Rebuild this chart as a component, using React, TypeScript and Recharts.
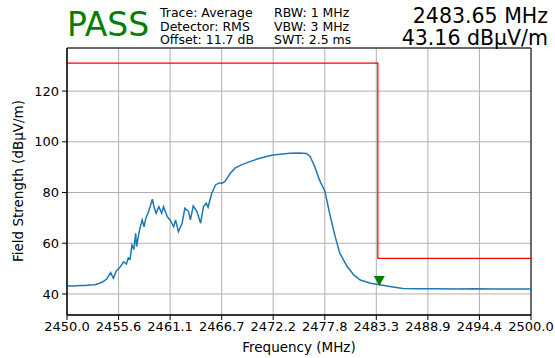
import React from "react";
import {
  ComposedChart,
  Line,
  XAxis,
  YAxis,
  CartesianGrid,
  ReferenceArea,
  ReferenceDot,
} from "recharts";

// measured trace (MHz, dBµV/m)
const traceFreq = [
  2450.0, 2450.5, 2451.0, 2451.5, 2452.0, 2452.5, 2453.0, 2453.5, 2453.9, 2454.3,
  2454.7, 2455.0, 2455.3, 2455.7, 2456.1, 2456.4, 2456.6, 2456.8, 2457.0, 2457.2,
  2457.4, 2457.5, 2457.8, 2458.1, 2458.3, 2458.5, 2458.8, 2459.2, 2459.4, 2459.6,
  2459.9, 2460.2, 2460.4, 2460.8, 2461.1, 2461.5, 2461.7, 2462.0, 2462.4, 2462.7,
  2463.1, 2463.3, 2463.6, 2464.0, 2464.4, 2464.7, 2465.0, 2465.2, 2465.6, 2466.0,
  2466.4, 2466.7, 2467.0, 2467.3, 2467.6, 2468.1, 2468.8, 2469.7, 2470.5, 2471.5,
  2472.2, 2473.0, 2474.0, 2475.0, 2475.8, 2476.2, 2476.7, 2477.2, 2477.8, 2478.3,
  2478.9, 2479.4, 2480.2, 2480.9, 2481.6, 2482.7, 2483.7, 2484.8, 2486.2, 2488.0,
  2490.0, 2492.0, 2494.0, 2496.0, 2498.0, 2500.0,
];
const traceLevel = [
  43.2, 43.1, 43.2, 43.3, 43.3, 43.5, 43.6, 44.2, 44.9, 46.0,
  48.4, 46.2, 49.0, 50.5, 52.7, 51.8, 54.2, 53.8, 59.3, 57.5,
  63.9, 58.7, 65.0, 69.2, 66.5, 69.9, 72.5, 77.4, 74.0, 71.8,
  74.4, 71.8, 74.4, 70.5, 69.2, 66.5, 69.2, 64.6, 67.9, 73.8,
  72.5, 69.2, 74.7, 72.5, 67.9, 74.4, 75.8, 74.2, 79.7, 83.0,
  83.8, 83.7, 84.3, 86.0, 87.6, 89.6, 90.9, 92.2, 93.2, 94.2,
  94.8, 95.1, 95.5, 95.6, 95.4, 94.2, 90.2, 85.0, 80.4, 71.8,
  62.6, 56.0, 50.8, 47.5, 45.5, 44.2, 43.6, 42.9, 42.2, 42.1,
  42.1, 42.0, 42.1, 42.0, 42.0, 42.0,
];

// limit mask
const limitFreq = [2450.0, 2483.5, 2483.5, 2500.0];
const limitLevel = [131, 131, 54, 54];

// peak marker
const markerFreq = 2483.65;
const markerLevel = 43.16;

const xTicks = [2450, 2455.56, 2461.11, 2466.67, 2472.22, 2477.78, 2483.33, 2488.89, 2494.44, 2500];
const yTicks = [40, 60, 80, 100, 120];

const settingsLeft = ["Trace: Average", "Detector: RMS", "Offset: 11.7 dB"];
const settingsRight = ["RBW: 1 MHz", "VBW: 3 MHz", "SWT: 2.5 ms"];

const traceData = traceFreq.map((f, i) => ({ f, v: traceLevel[i] }));
const limitData = limitFreq.map((f, i) => ({ f, v: limitLevel[i] }));

const FONT = "DejaVu Sans";
const tickStyle = { fontSize: 13, fill: "#000", fontFamily: FONT };

function Triangle(props: any) {
  const { cx, cy } = props;
  return (
    <path
      d={`M${cx},${cy} L${cx - 5.5},${cy - 10} L${cx + 5.5},${cy - 10} Z`}
      fill="#008000"
    />
  );
}

export default function App() {
  return (
    <div
      style={{
        position: "absolute",
        left: 0,
        top: 0,
        width: 555,
        height: 358,
        background: "#fff",
        fontFamily: FONT,
        color: "#000",
      }}
    >
      <ComposedChart
        width={555}
        height={358}
        margin={{ top: 48, right: 24, bottom: 13, left: 7 }}
      >
        <CartesianGrid stroke="#b0b0b0" strokeWidth={1} />
        <XAxis
          dataKey="f"
          type="number"
          domain={[2450, 2500]}
          ticks={xTicks}
          tickFormatter={(t: number) => t.toFixed(1)}
          allowDataOverflow
          interval={0}
          height={30}
          tick={tickStyle}
          tickSize={5}
          tickMargin={2}
          stroke="#000"
        />
        <YAxis
          type="number"
          domain={[31.7, 137]}
          ticks={yTicks}
          allowDataOverflow
          width={60}
          tick={tickStyle}
          tickSize={5}
          tickMargin={3}
          stroke="#000"
        />
        <ReferenceArea
          x1={2450}
          x2={2500}
          y1={31.7}
          y2={137}
          fill="none"
          stroke="#000"
          strokeWidth={1}
        />
        <Line
          data={traceData}
          dataKey="v"
          type="linear"
          stroke="#1f77b4"
          strokeWidth={1.5}
          dot={false}
          isAnimationActive={false}
        />
        <Line
          data={limitData}
          dataKey="v"
          type="linear"
          stroke="#ff0000"
          strokeWidth={1.2}
          dot={false}
          isAnimationActive={false}
        />
        <ReferenceDot x={markerFreq} y={markerLevel} shape={Triangle} />
      </ComposedChart>

      <div
        style={{
          position: "absolute",
          left: 67,
          top: 5,
          fontSize: 33,
          color: "#008000",
          lineHeight: "40px",
        }}
      >
        PASS
      </div>
      <div style={{ position: "absolute", left: 160, top: 6, fontSize: 12.5, lineHeight: "13.5px" }}>
        {settingsLeft.map((s) => (
          <div key={s}>{s}</div>
        ))}
      </div>
      <div style={{ position: "absolute", left: 274, top: 6, fontSize: 12.5, lineHeight: "13.5px" }}>
        {settingsRight.map((s) => (
          <div key={s}>{s}</div>
        ))}
      </div>
      <div
        style={{
          position: "absolute",
          right: 7,
          top: 5,
          fontSize: 20.5,
          lineHeight: "22px",
          textAlign: "right",
        }}
      >
        <div>{markerFreq.toFixed(2)} MHz</div>
        <div>{markerLevel.toFixed(2)} dBµV/m</div>
      </div>
      <div
        style={{
          position: "absolute",
          left: 67,
          width: 464,
          top: 339,
          fontSize: 13.5,
          textAlign: "center",
        }}
      >
        Frequency (MHz)
      </div>
      <div
        style={{
          position: "absolute",
          left: 18,
          top: 181,
          fontSize: 13.5,
          whiteSpace: "nowrap",
          transform: "translate(-50%, -50%) rotate(-90deg)",
        }}
      >
        Field Strength (dBµV/m)
      </div>
    </div>
  );
}
